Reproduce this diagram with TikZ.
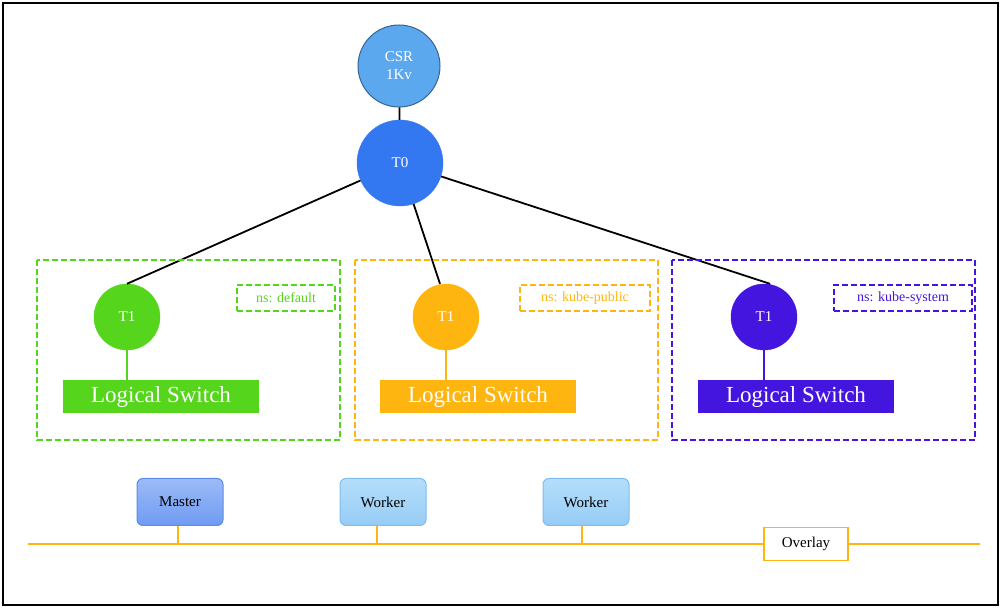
\documentclass[tikz,border=0pt]{standalone}
\usepackage{fontspec}
\setmainfont{Liberation Serif}
\begin{document}
\definecolor{csr}{HTML}{5BA8EE}
\definecolor{tz}{HTML}{3378F0}
\definecolor{gr}{HTML}{55D61C}
\definecolor{og}{HTML}{FFB50F}
\definecolor{pu}{HTML}{4515E0}
\begin{tikzpicture}[x=1pt,y=-1pt,
 circ/.style={circle,draw,inner sep=0pt,text=white,font=\fontsize{15}{18}\selectfont,align=center},
 sw/.style={minimum width=196pt,minimum height=33pt,inner sep=0pt,text=white,font=\fontsize{23}{25}\selectfont},
 ns/.style={draw,dash pattern=on 6pt off 3pt,line width=1.5pt,inner sep=0pt,font=\fontsize{14}{16}\selectfont},
 grp/.style={draw,dash pattern=on 6pt off 3pt,line width=1.5pt},
 host/.style={draw,line width=1pt,rounded corners=6pt,minimum width=86pt,minimum height=47pt,inner sep=0pt,font=\fontsize{15}{17}\selectfont},
 con/.style={line width=1.8pt}]
\useasboundingbox (0,0) rectangle (1002,609);
\draw[line width=1.5pt] (3,3) rectangle (998,605);
\node[circ,fill=csr,draw=csr!60!black,line width=1pt,minimum size=82pt] (csr) at (399,66) {CSR\\1Kv};
\node[circ,fill=tz,draw=tz,minimum size=86pt] (t0) at (400,163) {T0};
\node[circ,fill=gr,draw=gr,minimum size=66pt] (g1) at (127,317) {T1};
\node[circ,fill=og,draw=og,minimum size=66pt] (o1) at (446,317) {T1};
\node[circ,fill=pu,draw=pu,minimum size=66pt] (p1) at (764,317) {T1};
\draw[con] (csr) -- (t0);
\draw[con] (t0) -- (g1.north); \draw[con] (t0) -- ([xshift=-6pt]o1.north); \draw[con] (t0) -- ([xshift=6pt]p1.north);
\draw[grp,gr] (37,260) rectangle (340,440);
\draw[grp,og] (355,260) rectangle (658,440);
\draw[grp,pu] (672,260) rectangle (975,440);
\node[ns,draw=gr,text=gr,minimum width=98pt,minimum height=26pt] (ng) at (286,298) {ns: default};
\node[ns,draw=og,text=og,minimum width=130pt,minimum height=26pt] (no) at (585,298) {ns: kube-public};
\node[ns,draw=pu,text=pu,minimum width=138pt,minimum height=26pt] (np) at (903,298) {ns: kube-system};
\node[sw,fill=gr] (gs) at (161,397) {Logical Switch};
\node[sw,fill=og] (os) at (478,397) {Logical Switch};
\node[sw,fill=pu] (ps) at (796,397) {Logical Switch};
\draw[line width=1.5pt,gr] (g1) -- (g1|-gs.north);
\draw[line width=1.5pt,og] (o1) -- (o1|-os.north);
\draw[line width=1.5pt,pu] (p1) -- (p1|-ps.north);
\definecolor{mtop}{HTML}{9DBBF7}\definecolor{mbot}{HTML}{6E9BF2}\definecolor{mdr}{HTML}{5B8AE8}
\definecolor{wtop}{HTML}{B4DEFA}\definecolor{wbot}{HTML}{96CCF6}\definecolor{wdr}{HTML}{7FBDF0}
\node[host,draw=mdr,top color=mtop,bottom color=mbot] (m) at (180,502) {Master};
\node[host,draw=wdr,top color=wtop,bottom color=wbot] (w1) at (383,502) {Worker};
\node[host,draw=wdr,top color=wtop,bottom color=wbot] (w2) at (586,502) {Worker};
\coordinate (l) at (28,544); \coordinate (r) at (980,544);
\draw[og,line width=1.5pt] (l) -- (r);
\draw[og,line width=1.5pt] ([xshift=-2pt]m.south) -- ([xshift=-2pt]m.south|-l);
\draw[og,line width=1.5pt] ([xshift=-6pt]w1.south) -- ([xshift=-6pt]w1.south|-l);
\draw[og,line width=1.5pt] ([xshift=-4pt]w2.south) -- ([xshift=-4pt]w2.south|-l);
\node[draw=og,line width=1.5pt,fill=white,minimum width=84pt,minimum height=33pt,inner sep=0pt,font=\fontsize{15}{17}\selectfont] (ov) at (806,544) {Overlay};
\end{tikzpicture}
\end{document}
